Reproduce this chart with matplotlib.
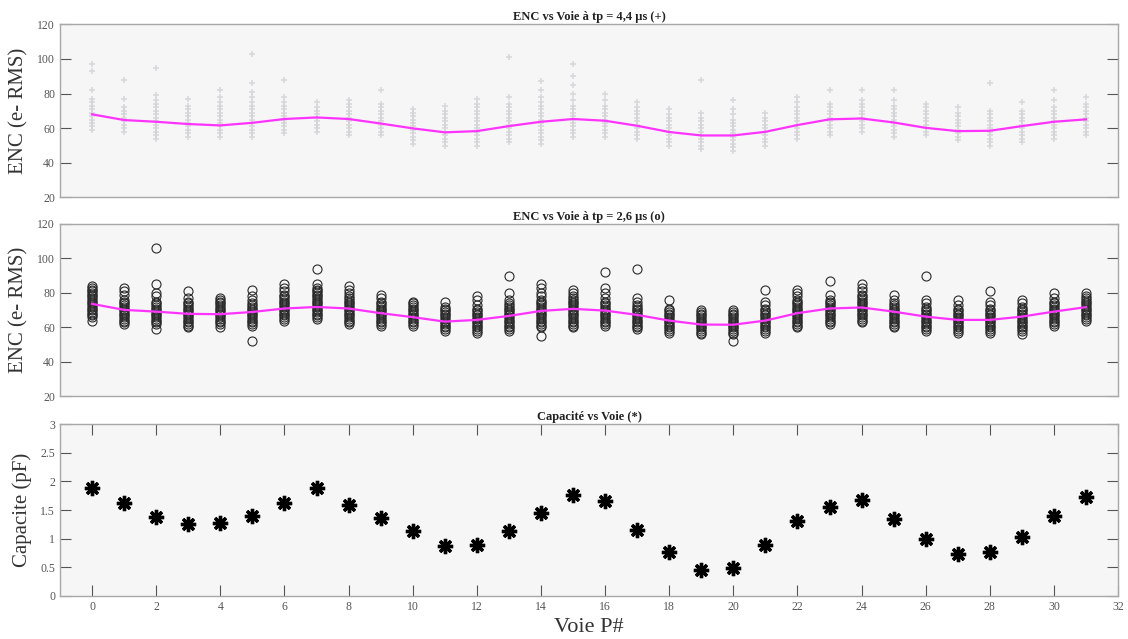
import matplotlib
matplotlib.use("Agg")
import matplotlib.pyplot as plt

channels = list(range(32))

enc44_mean = [68.0, 64.7, 63.7, 62.4, 61.6, 63.1, 65.3, 66.2, 65.3, 62.7,
              59.9, 57.6, 58.3, 61.2, 63.7, 65.3, 64.3, 61.4, 57.8, 55.8,
              55.8, 57.9, 61.8, 65.1, 65.6, 63.3, 60.2, 58.3, 58.5, 61.2,
              63.7, 65.1]

enc44_points = [
    [59, 61, 63, 65, 67, 69, 71, 73, 75, 77, 82, 93, 97],
    [58, 60, 62, 64, 66, 68, 70, 72, 77, 88],
    [54, 56, 58, 60, 62, 64, 66, 68, 70, 72, 74, 76, 79, 95],
    [55, 57, 59, 61, 63, 65, 67, 69, 71, 73, 77],
    [55, 57, 59, 61, 63, 65, 67, 69, 71, 73, 75, 78, 82],
    [55, 57, 59, 61, 63, 65, 67, 69, 71, 73, 75, 78, 81, 86, 103],
    [57, 59, 61, 63, 65, 67, 69, 71, 73, 75, 78, 88],
    [58, 60, 62, 64, 66, 68, 70, 72, 75],
    [56, 58, 60, 62, 64, 66, 68, 70, 72, 74, 76],
    [56, 58, 60, 62, 64, 66, 68, 70, 72, 74, 82],
    [51, 53, 55, 57, 59, 61, 63, 65, 67, 69, 71],
    [50, 52, 54, 56, 58, 60, 62, 64, 66, 68, 70, 73],
    [50, 52, 54, 56, 58, 60, 62, 64, 66, 68, 70, 72, 74, 77],
    [52, 54, 56, 58, 60, 62, 64, 66, 68, 70, 72, 74, 78, 101],
    [51, 53, 55, 57, 59, 61, 63, 65, 67, 69, 71, 73, 75, 78, 82, 87],
    [55, 57, 59, 61, 63, 65, 67, 69, 71, 73, 76, 80, 85, 90, 97],
    [55, 57, 59, 61, 63, 65, 67, 69, 71, 73, 76, 80],
    [54, 56, 58, 60, 62, 64, 66, 68, 70, 72, 75],
    [50, 52, 54, 56, 58, 60, 62, 64, 66, 68, 71],
    [48, 50, 52, 54, 56, 58, 60, 62, 64, 66, 69, 88],
    [47, 49, 51, 53, 55, 57, 59, 61, 63, 65, 68, 71, 76],
    [50, 52, 54, 56, 58, 60, 62, 64, 66, 69],
    [54, 56, 58, 60, 62, 64, 66, 68, 70, 72, 75, 78],
    [56, 58, 60, 62, 64, 66, 68, 70, 72, 74, 82],
    [58, 60, 62, 64, 66, 68, 70, 72, 74, 76, 82],
    [55, 57, 59, 61, 63, 65, 67, 69, 71, 73, 76, 82],
    [56, 58, 60, 62, 64, 66, 68, 70, 72, 74],
    [53, 55, 57, 59, 61, 63, 65, 67, 69, 72],
    [50, 52, 54, 56, 58, 60, 62, 64, 66, 68, 70, 86],
    [52, 54, 56, 58, 60, 62, 64, 66, 68, 70, 75],
    [54, 56, 58, 60, 62, 64, 66, 68, 70, 72, 76, 82],
    [56, 58, 60, 62, 64, 66, 68, 70, 72, 74, 78],
]

enc26_mean = [73.7, 70.2, 69.2, 67.9, 67.7, 69.0, 71.0, 71.9, 71.0, 68.3,
              66.0, 63.4, 64.4, 66.7, 69.6, 70.8, 69.8, 67.3, 64.0, 61.7,
              61.6, 64.0, 68.3, 71.0, 71.6, 69.2, 66.3, 64.4, 64.4, 66.3,
              69.2, 71.8]

enc26_points = [
    [64, 66, 67, 68, 69, 70, 71, 72, 73, 74, 75, 76, 77, 78, 79, 80, 81, 82, 83, 84],
    [62, 63, 64, 65, 66, 67, 68, 69, 70, 71, 72, 73, 74, 75, 76, 79, 81, 83],
    [59, 62, 63, 64, 65, 66, 67, 68, 69, 70, 71, 72, 73, 74, 75, 78, 80, 85, 106],
    [60, 61, 62, 63, 64, 65, 66, 67, 68, 69, 70, 71, 72, 73, 74, 75, 77, 81],
    [60, 62, 63, 64, 65, 66, 67, 68, 69, 70, 71, 72, 73, 74, 75, 76, 77],
    [52, 61, 62, 63, 64, 65, 66, 67, 68, 69, 70, 71, 72, 73, 74, 76, 78, 82],
    [64, 65, 66, 67, 68, 69, 70, 71, 72, 73, 74, 75, 76, 77, 78, 79, 81, 83, 85],
    [65, 66, 67, 68, 69, 70, 71, 72, 73, 74, 75, 76, 77, 78, 79, 80, 81, 82, 83, 85, 94],
    [62, 63, 64, 65, 66, 67, 68, 69, 70, 71, 72, 73, 74, 75, 76, 77, 78, 80, 82, 84],
    [61, 62, 63, 64, 65, 66, 67, 68, 69, 70, 71, 72, 73, 74, 75, 77, 79],
    [61, 62, 63, 64, 65, 66, 67, 68, 69, 70, 71, 72, 73, 74, 75],
    [58, 59, 60, 61, 62, 63, 64, 65, 66, 67, 68, 69, 70, 71, 72, 75],
    [57, 58, 59, 60, 61, 62, 63, 64, 65, 66, 67, 68, 69, 70, 71, 73, 76, 78],
    [58, 59, 60, 61, 62, 63, 64, 65, 66, 67, 68, 69, 70, 71, 72, 73, 74, 76, 80, 90],
    [55, 60, 61, 62, 63, 64, 65, 66, 67, 68, 69, 70, 71, 72, 73, 74, 75, 76, 78, 80, 83, 85],
    [60, 61, 62, 63, 64, 65, 66, 67, 68, 69, 70, 71, 72, 73, 74, 75, 76, 77, 78, 80, 82],
    [61, 62, 63, 64, 65, 66, 67, 68, 69, 70, 71, 72, 73, 74, 75, 77, 80, 83, 92],
    [59, 60, 61, 62, 63, 64, 65, 66, 67, 68, 69, 70, 71, 72, 73, 75, 77, 94],
    [57, 58, 59, 60, 61, 62, 63, 64, 65, 66, 67, 68, 69, 70, 71, 76],
    [56, 57, 58, 59, 60, 61, 62, 63, 64, 65, 66, 67, 68, 69, 70],
    [52, 56, 57, 58, 59, 60, 61, 62, 63, 64, 65, 66, 67, 68, 69, 70],
    [57, 58, 59, 60, 61, 62, 63, 64, 65, 66, 67, 68, 69, 70, 71, 73, 75, 82],
    [60, 61, 62, 63, 64, 65, 66, 67, 68, 69, 70, 71, 72, 73, 74, 75, 76, 78, 80, 82],
    [62, 63, 64, 65, 66, 67, 68, 69, 70, 71, 72, 73, 74, 75, 76, 79, 87],
    [63, 64, 65, 66, 67, 68, 69, 70, 71, 72, 73, 74, 75, 76, 77, 78, 79, 81, 83, 85],
    [60, 61, 62, 63, 64, 65, 66, 67, 68, 69, 70, 71, 72, 73, 74, 76, 79],
    [58, 59, 60, 61, 62, 63, 64, 65, 66, 67, 68, 69, 70, 71, 72, 74, 76, 90],
    [57, 58, 59, 60, 61, 62, 63, 64, 65, 66, 67, 68, 69, 70, 71, 73, 76],
    [57, 58, 59, 60, 61, 62, 63, 64, 65, 66, 67, 68, 69, 70, 71, 73, 75, 81],
    [56, 58, 59, 60, 61, 62, 63, 64, 65, 66, 67, 68, 69, 70, 71, 72, 74, 76],
    [61, 62, 63, 64, 65, 66, 67, 68, 69, 70, 71, 72, 73, 74, 75, 77, 80],
    [64, 65, 66, 67, 68, 69, 70, 71, 72, 73, 74, 75, 76, 77, 78, 80],
]

capacite = [1.88, 1.62, 1.38, 1.25, 1.28, 1.39, 1.63, 1.89, 1.59, 1.36,
            1.14, 0.87, 0.89, 1.13, 1.44, 1.77, 1.66, 1.16, 0.76, 0.45,
            0.48, 0.89, 1.31, 1.56, 1.67, 1.34, 0.99, 0.73, 0.77, 1.03,
            1.39, 1.73]

titles = ["ENC vs Voie à tp = 4,4 µs (+)",
          "ENC vs Voie à tp = 2,6 µs (o)",
          "Capacité vs Voie (*)"]
ylabels = ["ENC (e- RMS)", "ENC (e- RMS)", "Capacite (pF)"]
xlabel = "Voie P#"

enc_yticks = [20, 40, 60, 80, 100, 120]
cap_yticks = [0, 0.5, 1, 1.5, 2, 2.5, 3]
cap_yticklabels = ["0", "0.5", "1", "1.5", "2", "2.5", "3"]
xticks = list(range(0, 33, 2))

SERIF = ["Liberation Serif", "DejaVu Serif"]
plt.rcParams["font.family"] = SERIF

fig = plt.figure(figsize=(11.28, 6.39), dpi=100)
fig.patch.set_facecolor("white")

L, W = 0.0532, 0.938
positions = [[L, 0.691, W, 0.271], [L, 0.3795, W, 0.270], [L, 0.0673, W, 0.269]]
axes = [fig.add_axes(p) for p in positions]

spine_col = "#a8a8a8"
for i, ax in enumerate(axes):
    ax.set_facecolor("#f6f6f6")
    for s in ax.spines.values():
        s.set_color(spine_col)
        s.set_linewidth(1.0)
    ax.set_xlim(-1, 32)
    ax.set_title(titles[i], fontsize=9, fontweight="bold", pad=3, color="#222222")
    ax.set_ylabel(ylabels[i], fontsize=15, color="#333333", labelpad=6)
    ax.tick_params(axis="both", direction="in", colors="#555555", labelsize=8.5,
                   length=8, width=0.8, right=True, top=True)

# Top panel: + markers (faint)
ax = axes[0]
for ch, pts in zip(channels, enc44_points):
    ax.plot([ch] * len(pts), pts, linestyle="none", marker="+", color="#cfcfd3",
            markersize=4.5, markeredgewidth=1.2, alpha=0.75)
ax.plot(channels, enc44_mean, color="#ff33ff", linewidth=1.6)
ax.set_ylim(20, 120)
ax.set_yticks(enc_yticks)
ax.set_xticks([])

# Middle panel: circle markers
ax = axes[1]
for ch, pts in zip(channels, enc26_points):
    ax.plot([ch] * len(pts), pts, linestyle="none", marker="o", markerfacecolor="none",
            markeredgecolor="#2a2a2a", markersize=6.5, markeredgewidth=0.8)
ax.plot(channels, enc26_mean, color="#ff33ff", linewidth=1.6)
ax.set_ylim(20, 120)
ax.set_yticks(enc_yticks)
ax.set_xticks([])

# Bottom panel: asterisk markers
ax = axes[2]
ax.plot(channels, capacite, linestyle="none", marker=(8, 2, 0), color="black",
        markersize=11, markeredgewidth=2.4)
ax.set_ylim(0, 3)
ax.set_yticks(cap_yticks)
ax.set_yticklabels(cap_yticklabels)
ax.set_xticks(xticks)
ax.set_xlabel(xlabel, fontsize=16, color="#333333", labelpad=4)

fig.savefig("out.png", dpi=100, facecolor="white")
